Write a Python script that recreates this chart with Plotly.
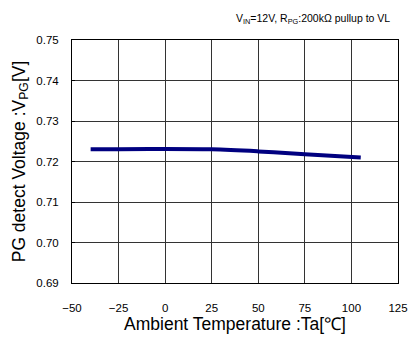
import plotly.graph_objects as go

temps = [-40, -25, 0, 25, 50, 75, 105]
vpg = [0.7230, 0.7230, 0.7231, 0.7230, 0.7225, 0.7218, 0.7210]

x_ticks = [-50, -25, 0, 25, 50, 75, 100, 125]
x_labels = ["\u221250", "\u221225", "0", "25", "50", "75", "100", "125"]
y_ticks = [0.69, 0.70, 0.71, 0.72, 0.73, 0.74, 0.75]
y_labels = ["0.69", "0.70", "0.71", "0.72", "0.73", "0.74", "0.75"]

fig = go.Figure()
fig.add_trace(go.Scatter(x=temps, y=vpg, mode="lines",
                         line=dict(color="#000080", width=4, shape="spline"), showlegend=False))

font = "Liberation Sans, Arial, sans-serif"
fig.update_layout(
    width=419, height=340,
    margin=dict(l=72, r=11, t=40, b=52),
    paper_bgcolor="white", plot_bgcolor="white",
    font=dict(family=font, color="black", size=11.5),
    xaxis=dict(range=[-50, 125], tickvals=x_ticks, ticktext=x_labels,
               showgrid=True, gridcolor="#333333", gridwidth=1, showline=True, linecolor="black", linewidth=1, mirror=True,
               zeroline=False, ticks="", ticklen=0, ticklabelstandoff=14, ticklabeloverflow="allow",
               title=dict(text="Ambient Temperature :Ta[\u2103]", font=dict(size=17.5), standoff=3)),
    yaxis=dict(range=[0.69, 0.75], tickvals=y_ticks, ticktext=y_labels,
               showgrid=True, gridcolor="#333333", gridwidth=1, showline=True, linecolor="black", linewidth=1, mirror=True,
               zeroline=False, ticks="inside", ticklen=3, tickcolor="black", ticklabelstandoff=10,
               title=dict(text="PG detect Voltage :V<sub>PG</sub>[V]", font=dict(size=17.5), standoff=6)),
    annotations=[dict(text="V<sub>IN</sub>=12V, R<sub>PG</sub>:200k\u03a9 pullup to VL", xref="paper", yref="paper",
                      x=1, y=1, xshift=-6, yshift=12, xanchor="right", yanchor="bottom", showarrow=False,
                      font=dict(size=10.5))],
)
fig.write_html("out.html", config={"displayModeBar": False},
               post_script="document.body.style.margin='0';document.body.style.padding='0';")
